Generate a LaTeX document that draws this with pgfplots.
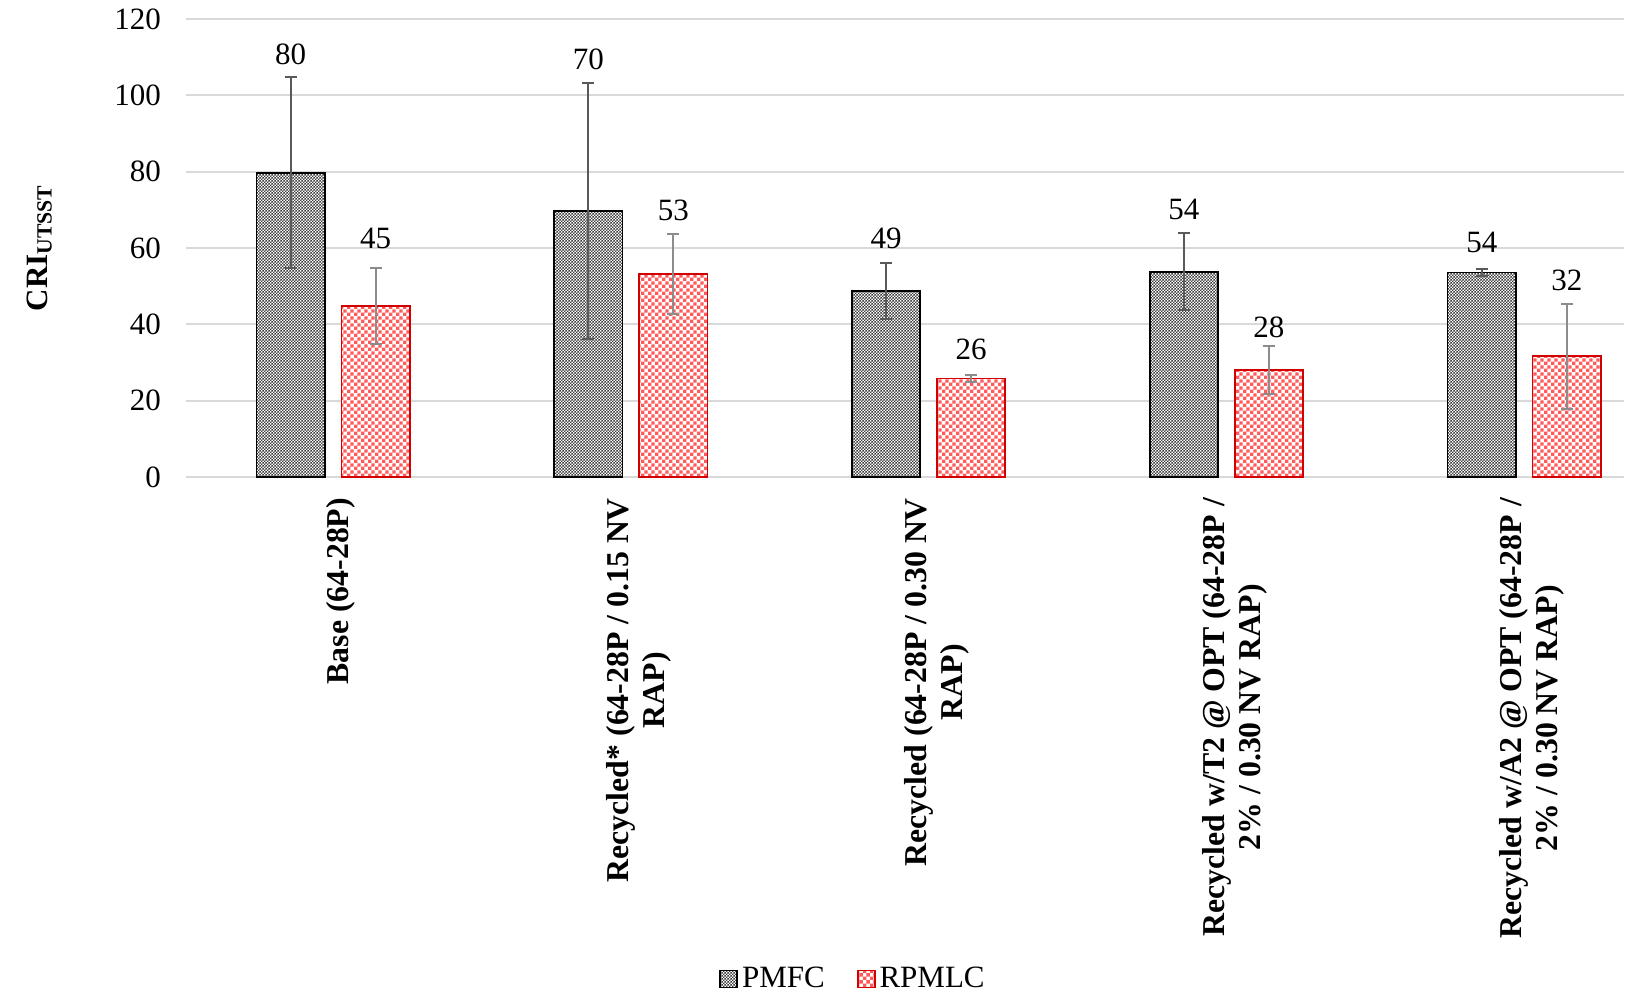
\documentclass[border=0pt]{standalone}
\usepackage{fontspec}
\setmainfont{Liberation Serif}
\usepackage{pgfplots}
\pgfplotsset{compat=1.18}
\usepackage{pgfplotstable}
\usetikzlibrary{patterns}
\definecolor{redb}{RGB}{210,0,0}
\definecolor{redc}{RGB}{255,90,90}
\definecolor{gridc}{RGB}{217,217,217}
\definecolor{errA}{RGB}{89,89,89}
\definecolor{errB}{RGB}{140,140,140}
\pgfdeclarepatternformonly{fineChk}{\pgfpointorigin}{\pgfqpoint{1.7pt}{1.7pt}}{\pgfqpoint{1.7pt}{1.7pt}}{%
  \pgfpathrectangle{\pgfpointorigin}{\pgfqpoint{0.85pt}{0.85pt}}%
  \pgfpathrectangle{\pgfqpoint{0.85pt}{0.85pt}}{\pgfqpoint{0.85pt}{0.85pt}}%
  \pgfusepath{fill}}
\pgfdeclarepatternformonly{bigChk}{\pgfpointorigin}{\pgfqpoint{3.4pt}{3.4pt}}{\pgfqpoint{3.4pt}{3.4pt}}{%
  \pgfpathrectangle{\pgfpointorigin}{\pgfqpoint{1.7pt}{1.7pt}}%
  \pgfpathrectangle{\pgfqpoint{1.7pt}{1.7pt}}{\pgfqpoint{1.7pt}{1.7pt}}%
  \pgfusepath{fill}}
\pgfplotstableread{
x v e lc lab
0 79.7 25.0 110.8 80
1 69.7 33.5 109.4 70
2 48.7 7.3 62.4 49
3 53.8 10.0 70.1 54
4 53.6 1.0 61.4 54
}\pmfc
\pgfplotstableread{
x v e lc lab
0 44.8 10.0 62.6 45
1 53.2 10.5 69.8 53
2 25.8 1.0 33.4 26
3 28.0 6.3 39.1 28
4 31.6 13.7 51.6 32
}\rpmlc
\newcommand{\fs}{\fontsize{15.5}{18}\selectfont}
\begin{document}
\begin{tikzpicture}
\begin{axis}[
  name=ax,
  scale only axis,
  width=719pt, height=229pt,
  xmin=-0.494, xmax=4.335,
  ymin=0, ymax=120,
  ytick={0,20,...,120},
  xtick={0,...,4},
  xticklabels={
    {Base (64-28P)},
    {Recycled* (64-28P / 0.15 NV\\RAP)},
    {Recycled (64-28P / 0.30 NV\\RAP)},
    {Recycled w/T2 @ OPT (64-28P /\\2\% / 0.30 NV RAP)},
    {Recycled w/A2 @ OPT (64-28P /\\2\% / 0.30 NV RAP)}},
  xticklabel style={rotate=90, anchor=east, align=center, font=\bfseries\fontsize{15.9}{18}\selectfont, yshift=-4pt, xshift=-7pt},
  yticklabel style={font=\fs, xshift=-9pt},
  /pgf/number format/assume math mode=true,
  ybar=8.3pt, bar width=34.2pt,
  axis line style={draw=none},
  major tick length=0pt,
  ymajorgrids, grid style={gridc, line width=1pt},
  ylabel={\textbf{CRI\textsubscript{UTSST}}},
  ylabel style={at={(axis description cs:-0.102,0.5)}, anchor=center, font=\fs},
  legend style={at={(axis description cs:0.4645,-1.096)}, anchor=center, draw=none,
    font=\fs, legend columns=2,
    /tikz/every even column/.append style={column sep=14pt}},
  legend image code/.code={\draw[#1] (0pt,-4.25pt) rectangle (8.5pt,4.25pt);},
  nodes near coords,
  point meta=explicit symbolic,
  visualization depends on={(\thisrow{lc}-\thisrow{v})*229/120 \as \dl},
  every node near coord/.append style={anchor=center, yshift=\dl pt, text=black, font=\fs},
]
\addplot[draw=black, line width=0.9pt, fill=white, postaction={pattern=fineChk, pattern color=black!75},
  error bars/.cd, y dir=both, y explicit,
  error bar style={errA, line width=1pt},
  error mark options={rotate=90, mark size=3pt, errA, line width=1pt}]
  table[x=x, y=v, y error=e, meta=lab] {\pmfc};
\addlegendentry{PMFC}
\addplot[draw=redb, line width=0.9pt, fill=white, postaction={pattern=bigChk, pattern color=redc},
  error bars/.cd, y dir=both, y explicit,
  error bar style={errB, line width=1pt},
  error mark options={rotate=90, mark size=3pt, errB, line width=1pt}]
  table[x=x, y=v, y error=e, meta=lab] {\rpmlc};
\addlegendentry{RPMLC}
\end{axis}
\pgfresetboundingbox
\path[use as bounding box] (ax.south west) ++(-93pt,-261.5pt) rectangle ++(812.5pt,500pt);
\end{tikzpicture}
\end{document}
